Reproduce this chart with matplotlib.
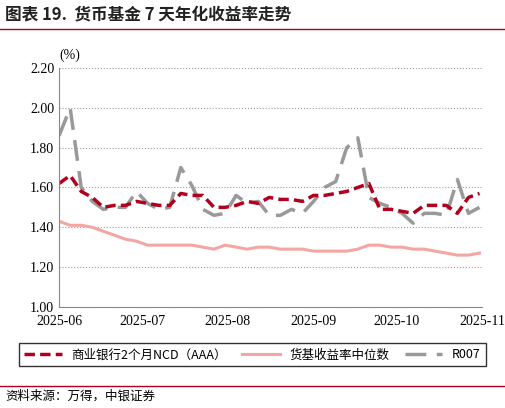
import matplotlib
matplotlib.use("Agg")
import matplotlib.pyplot as plt
import matplotlib.dates as mdates
import numpy as np
import pandas as pd

plt.rcParams['font.family'] = ['Liberation Serif', 'Noto Sans CJK SC', 'DejaVu Sans']

dates = pd.date_range("2025-06-01", "2025-10-31", freq="4D")
ncd = [1.62,1.66,1.58,1.55,1.50,1.51,1.51,1.53,1.52,1.51,1.51,1.57,1.56,1.56,1.50,1.50,
       1.51,1.53,1.52,1.55,1.54,1.54,1.53,1.56,1.56,1.57,1.58,1.60,1.62,1.49,1.49,1.48,
       1.47,1.51,1.51,1.51,1.47,1.55,1.57]
median = [1.43,1.41,1.41,1.40,1.38,1.36,1.34,1.33,1.31,1.31,1.31,1.31,1.31,1.30,1.29,1.31,
          1.30,1.29,1.30,1.30,1.29,1.29,1.29,1.28,1.28,1.28,1.28,1.29,1.31,1.31,1.30,1.30,
          1.29,1.29,1.28,1.27,1.26,1.26,1.27]
r007 = [1.86,2.00,1.60,1.53,1.49,1.50,1.50,1.58,1.52,1.49,1.50,1.70,1.61,1.49,1.46,1.47,
        1.56,1.52,1.53,1.46,1.46,1.49,1.47,1.53,1.60,1.63,1.80,1.85,1.55,1.52,1.50,1.47,
        1.42,1.47,1.47,1.46,1.64,1.47,1.50]
n = len(dates)

fig = plt.figure(figsize=(5.05, 4.08), dpi=100)
ax = fig.add_axes([0.117, 0.248, 0.838, 0.585])
ax.plot(dates, median[:n], color="#F4A6A3", lw=2.2, label="货基收益率中位数")
ax.plot(dates, r007[:n], color="#999999", lw=2.5, dashes=(6, 3), label="R007")
ax.plot(dates, ncd[:n], color="#B0001E", lw=2.5, dashes=(3, 1.5), label="商业银行2个月NCD（AAA）")

ax.set_ylim(1.0, 2.2)
ax.set_yticks(np.arange(1.0, 2.21, 0.2))
ax.set_yticklabels([f"{v:.2f}" for v in np.arange(1.0, 2.21, 0.2)], fontsize=10)
ax.set_xlim(pd.Timestamp("2025-06-01"), pd.Timestamp("2025-11-01"))
ax.xaxis.set_major_locator(mdates.MonthLocator())
ax.xaxis.set_major_formatter(mdates.DateFormatter("%Y-%m"))
ax.tick_params(axis='x', labelsize=10, length=0, pad=6)
ax.tick_params(axis='y', length=0)
ax.grid(axis='y', color='#999999', ls=':', lw=0.8)
for s in ['top', 'right']:
    ax.spines[s].set_visible(False)
ax.spines['left'].set_color('#888888')
ax.spines['bottom'].set_color('#888888')
ax.text(0.0, 1.04, "(%)", transform=ax.transAxes, fontsize=10, ha='left')

h, l = ax.get_legend_handles_labels()
order = [2, 0, 1]
leg = fig.legend([h[i] for i in order], [l[i] for i in order], loc='center',
                 bbox_to_anchor=(0.5, 0.13), ncol=3, frameon=True,
                 fancybox=False, edgecolor='black', handlelength=3, columnspacing=1.2,
                 prop={'family': ['Noto Sans CJK SC'], 'size': 9})

fig.text(0.01, 0.965, "图表 19.  货币基金 7 天年化收益率走势", fontsize=12, fontweight='bold',
         family=['Noto Sans CJK SC'], va='center', color='#222222')
fig.add_artist(plt.Line2D([0, 1], [0.93, 0.93], color='#B0001E', lw=1))
fig.add_artist(plt.Line2D([0, 1], [0.055, 0.055], color='#B0001E', lw=1))
fig.text(0.01, 0.03, "资料来源：万得，中银证券", fontsize=9, family=['Noto Sans CJK SC'],
         va='center', style='italic')
fig.savefig("out.png", dpi=100)
